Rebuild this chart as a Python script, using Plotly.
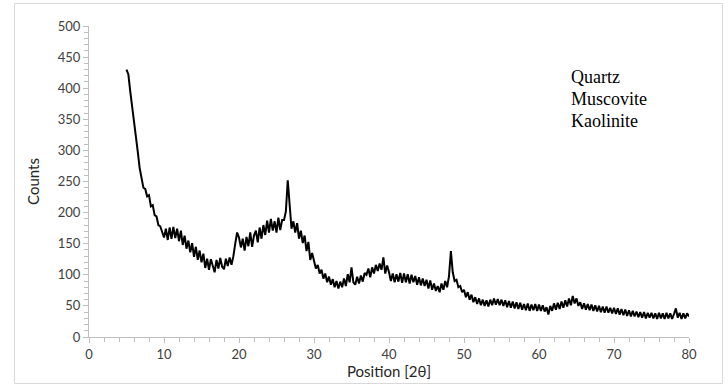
import plotly.graph_objects as go

x_start = 5.0
x_step = 0.25

counts = [
    430, 422, 395, 368, 345, 315, 298, 272, 258, 240, 238, 226, 228, 210, 212, 196, 194, 180, 178, 168,
    160, 174, 156, 176, 158, 177, 159, 174, 154, 171, 148, 163, 142, 155, 136, 151, 129, 145, 124, 139,
    120, 134, 111, 126, 108, 125, 112, 104, 124, 110, 127, 113, 109, 126, 114, 128, 116, 130, 150, 168,
    160, 144, 158, 139, 161, 146, 168, 145, 163, 171, 152, 176, 158, 180, 164, 187, 168, 190, 171, 186,
    168, 192, 172, 188, 188, 202, 252, 208, 174, 186, 168, 183, 158, 171, 151, 163, 138, 153, 124, 135,
    124, 110, 116, 102, 108, 94, 102, 88, 97, 84, 93, 80, 90, 78, 89, 80, 94, 82, 101, 88,
    112, 88, 84, 97, 86, 99, 89, 103, 100, 110, 96, 112, 102, 116, 106, 118, 108, 128, 102, 115,
    104, 90, 102, 88, 101, 89, 103, 87, 102, 88, 101, 86, 100, 88, 98, 84, 96, 83, 94, 82,
    92, 78, 91, 76, 86, 74, 82, 72, 86, 76, 90, 80, 98, 138, 104, 90, 92, 80, 82, 72,
    76, 64, 72, 60, 68, 56, 64, 53, 62, 51, 60, 50, 59, 49, 60, 51, 62, 52, 61, 51,
    60, 50, 59, 48, 58, 47, 57, 46, 56, 45, 55, 44, 53, 43, 54, 42, 52, 43, 53, 42,
    52, 42, 51, 41, 48, 36, 50, 42, 54, 44, 55, 45, 57, 47, 59, 49, 62, 51, 66, 54,
    62, 50, 56, 45, 54, 44, 53, 43, 52, 42, 51, 41, 50, 40, 49, 39, 49, 39, 47, 38,
    47, 37, 46, 36, 45, 35, 44, 34, 43, 33, 42, 33, 41, 32, 40, 31, 40, 30, 39, 31,
    39, 30, 38, 29, 39, 30, 38, 29, 39, 30, 38, 29, 37, 46, 31, 39, 29, 38, 30, 38,
    33,
]
positions = [x_start + x_step * i for i in range(len(counts))]

phases = ["Quartz", "Muscovite", "Kaolinite"]

fig = go.Figure()
fig.add_trace(go.Scatter(x=positions, y=counts, mode="lines",
                         line=dict(color="black", width=2), showlegend=False))

axis_font = dict(family="Lato, Open Sans, sans-serif", size=13, color="#404040")
title_font = dict(family="Lato, Open Sans, sans-serif", size=15, color="#262626")

fig.update_layout(
    width=728, height=389,
    margin=dict(l=89, r=39, t=26, b=52),
    paper_bgcolor="white", plot_bgcolor="white",
    xaxis=dict(range=[0, 80], dtick=10, showgrid=False, zeroline=False, automargin=False,
               showline=True, linecolor="#bfbfbf", linewidth=1,
               ticks="outside", ticklen=5, tickcolor="#bfbfbf",
               minor=dict(dtick=2, ticks="outside", ticklen=4, tickcolor="#bfbfbf"),
               tickfont=axis_font,
               title=dict(text="Position [2θ]", font=title_font, standoff=2)),
    yaxis=dict(range=[0, 500], dtick=50, showgrid=False, zeroline=False, automargin=False,
               showline=True, linecolor="#bfbfbf", linewidth=1,
               ticks="outside", ticklen=5, tickcolor="#bfbfbf",
               minor=dict(dtick=10, ticks="outside", ticklen=4, tickcolor="#bfbfbf"),
               tickfont=axis_font,
               title=dict(text="Counts", font=title_font, standoff=14)),
)

for i, name in enumerate(phases):
    fig.add_annotation(x=(569 - 89) / 600, y=(337 - 77 - 22 * i) / 311,
                       xref="paper", yref="paper", xanchor="left", yanchor="middle",
                       text=name, showarrow=False,
                       font=dict(family="Liberation Serif, Times New Roman, serif", size=18, color="black"))

fig.add_shape(type="rect", xref="paper", yref="paper",
              x0=(14.5 - 89) / 600, x1=(722.5 - 89) / 600,
              y0=(337 - 383.5) / 311, y1=(337 - 3.5) / 311,
              line=dict(color="#d9d9d9", width=1), fillcolor="rgba(0,0,0,0)", layer="below")

fig.write_html("out.html", config={"displayModeBar": False},
               post_script="document.body.style.margin='0px';")
